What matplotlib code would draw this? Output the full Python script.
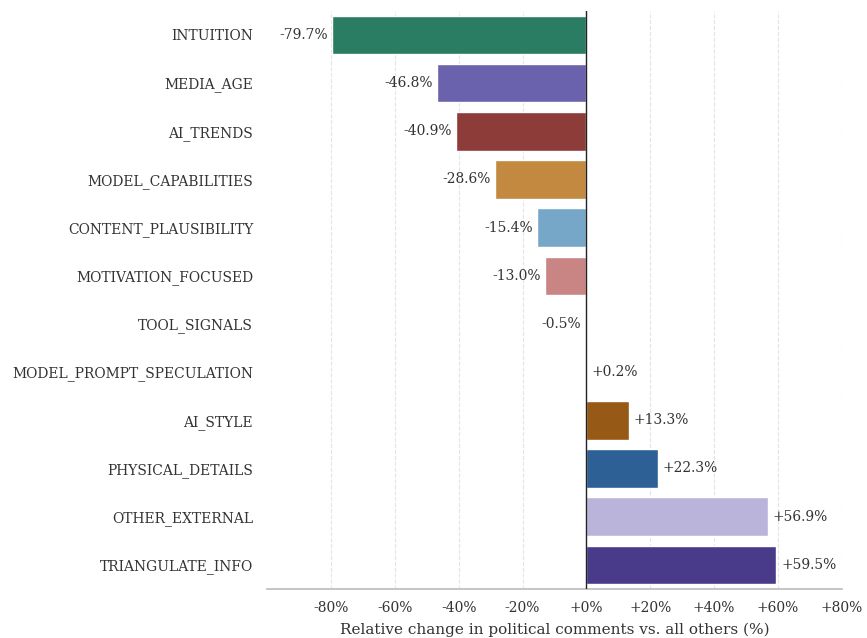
import matplotlib
matplotlib.use("Agg")
import matplotlib.pyplot as plt

categories = ["INTUITION", "MEDIA_AGE", "AI_TRENDS", "MODEL_CAPABILITIES",
              "CONTENT_PLAUSIBILITY", "MOTIVATION_FOCUSED", "TOOL_SIGNALS",
              "MODEL_PROMPT_SPECULATION", "AI_STYLE", "PHYSICAL_DETAILS",
              "OTHER_EXTERNAL", "TRIANGULATE_INFO"]
values = [-79.7, -46.8, -40.9, -28.6, -15.4, -13.0, -0.5, 0.2, 13.3, 22.3, 56.9, 59.5]
colors = ["#2a7d62", "#6b62ae", "#8e3c3a", "#c38940", "#76a7c9", "#c98484",
          "#7a7a7a", "#7a7a7a", "#975a16", "#2d6196", "#bab4da", "#4a3b8a"]
xticks = [-80, -60, -40, -20, 0, 20, 40, 60, 80]

plt.rcParams["font.family"] = ["DejaVu Serif"]

fig, ax = plt.subplots(figsize=(8.67, 6.38), dpi=100)
fig.subplots_adjust(left=0.308, right=0.971, top=0.983, bottom=0.077)

ypos = list(range(len(categories)))
ax.barh(ypos, values, height=0.8, color=colors, edgecolor="white", linewidth=1, zorder=2)
ax.set_ylim(len(categories) - 0.5, -0.5)
ax.set_yticks(ypos)
ax.set_yticklabels(categories, fontsize=10, color="#333333")

for y, v in zip(ypos, values):
    if v < 0:
        ax.text(v - 1.2, y, f"{v:.1f}%", va="center", ha="right", fontsize=10, color="#333333")
    else:
        ax.text(v + 1.5, y, f"+{v:.1f}%", va="center", ha="left", fontsize=10, color="#333333")

ax.axvline(0, color="#222222", linewidth=1.0, zorder=3)
ax.set_xlim(-100, 80)
ax.set_xticks(xticks)
ax.set_xticklabels([f"{t}%" if t < 0 else f"+{t}%" for t in xticks], fontsize=10, color="#333333")
ax.set_xlabel("Relative change in political comments vs. all others (%)", fontsize=11,
              color="#333333", labelpad=5)

ax.grid(axis="x", linestyle="--", color="#e4e4e4", linewidth=0.8, zorder=0)
ax.set_axisbelow(True)
ax.tick_params(axis="y", length=0, pad=10)
ax.tick_params(axis="x", length=0, pad=9)
for s in ["top", "right", "left"]:
    ax.spines[s].set_visible(False)
ax.spines["bottom"].set_color("#bbbbbb")
ax.spines["bottom"].set_linewidth(1.2)

fig.savefig("out.png", dpi=100)
